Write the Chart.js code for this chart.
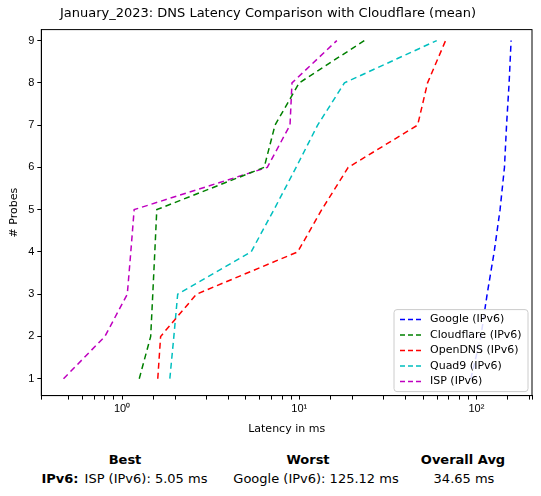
<!DOCTYPE html>
<html><head>
<script src="https://cdn.jsdelivr.net/npm/chart.js@4/dist/chart.umd.min.js"></script>
<style>
body{margin:0;background:#fff;font-family:"DejaVu Sans",sans-serif;}
#wrap{position:relative;width:541px;height:440px;}
.t{position:absolute;font-size:13px;color:#000;white-space:nowrap;transform:translateX(-50%);}
</style></head><body>
<div id="wrap"><canvas id="c" width="541" height="440"></canvas></div>
<div class="t" style="left:125px;top:452px;font-weight:bold">Best</div>
<div class="t" style="left:308px;top:452px;font-weight:bold">Worst</div>
<div class="t" style="left:463px;top:452px;font-weight:bold">Overall Avg</div>
<div class="t" style="left:60px;top:471px;font-weight:bold">IPv6:</div>
<div class="t" style="left:146px;top:471px">ISP (IPv6): 5.05 ms</div>
<div class="t" style="left:316px;top:471px">Google (IPv6): 125.12 ms</div>
<div class="t" style="left:464px;top:471px">34.65 ms</div>
<script>
const probes = [1,2,3,4,5,6,7,8,9];
const google = [93,106,115,126,136,144,148,153,157];
const cloudflare = [1.25,1.45,1.49,1.53,1.57,6.34,7.3,10,23.3];
const opendns = [1.59,1.65,2.63,9.8,13.4,18.9,46.6,53,67];
const quad9 = [1.86,1.96,2.06,5.35,7.2,9.6,12.7,18,59.7];
const isp = [0.467,0.80,1.07,1.12,1.17,6.6,8.87,9.1,16.3];
const series = [
  ['Google (IPv6)', google, '#0000ff'],
  ['Cloudflare (IPv6)', cloudflare, '#008000'],
  ['OpenDNS (IPv6)', opendns, '#ff0000'],
  ['Quad9 (IPv6)', quad9, '#00bfbf'],
  ['ISP (IPv6)', isp, '#bf00bf']
];
const frame = {id:'frame', afterDraw(ch){const a=ch.chartArea,x=ch.ctx;x.save();x.strokeStyle='#000';x.lineWidth=1;x.strokeRect(a.left,a.top,a.right-a.left,a.bottom-a.top);x.restore();}};
const legendBox = {id:'legBox', afterDraw(ch){
  const a=ch.chartArea,x=ch.ctx,w=134,h=82,l=a.right-w-4,t=a.bottom-h-4;
  x.save();x.fillStyle='rgba(255,255,255,0.85)';x.strokeStyle='#ccc';x.lineWidth=1;x.beginPath();x.roundRect(l,t,w,h,3);x.fill();x.stroke();
  x.font='11px "DejaVu Sans"';x.textBaseline='middle';
  series.forEach(([lab,,c],i)=>{const yy=t+10+i*15.5;x.strokeStyle=c;x.lineWidth=1.5;x.setLineDash([5,3]);x.beginPath();x.moveTo(l+6,yy);x.lineTo(l+30,yy);x.stroke();x.setLineDash([]);x.fillStyle='#000';x.fillText(lab,l+36,yy);});
  x.restore();}};
const sup = {0:'⁰',1:'¹',2:'²'};
new Chart(document.getElementById('c'), {
  type:'line',
  data:{datasets: series.map(([l,d,c])=>({label:l,data:d.map((v,i)=>({x:v,y:probes[i]})),borderColor:c,backgroundColor:c,borderDash:[6,4],borderWidth:1.5,pointRadius:0,fill:false,tension:0}))},
  options:{
    responsive:false, animation:false, devicePixelRatio:1,
    layout:{padding:{left:4,right:9,top:0,bottom:0}},
    plugins:{
      title:{display:true,text:'January_2023: DNS Latency Comparison with Cloudflare (mean)',color:'#000',font:{size:13,weight:'normal',family:'DejaVu Sans'},padding:{top:6,bottom:8}},
      legend:{display:false},
      tooltip:{enabled:false}
    },
    scales:{
      x:{type:'logarithmic',min:0.35,max:206,
        title:{display:true,text:'Latency in ms',color:'#000',font:{size:11,family:'DejaVu Sans'}},
        grid:{drawOnChartArea:false,color:'#000',tickLength:4},border:{color:'#000'},
        ticks:{color:'#000',font:{size:11},autoSkip:false,maxRotation:0,callback:v=>{const e=Math.log10(v);return Math.abs(e-Math.round(e))<1e-9&&sup[Math.round(e)]?'10'+sup[Math.round(e)]:'';}}},
      y:{type:'linear',min:0.6,max:9.26,
        title:{display:true,text:'# Probes',color:'#000',font:{size:11,family:'DejaVu Sans'}},
        grid:{drawOnChartArea:false,color:'#000',tickLength:4},border:{color:'#000'},
        afterBuildTicks:ax=>{ax.ticks=probes.map(v=>({value:v}));},
        ticks:{color:'#000',font:{size:11},autoSkip:false}}
    }
  },
  plugins:[frame,legendBox]
});
</script>
</body></html>
